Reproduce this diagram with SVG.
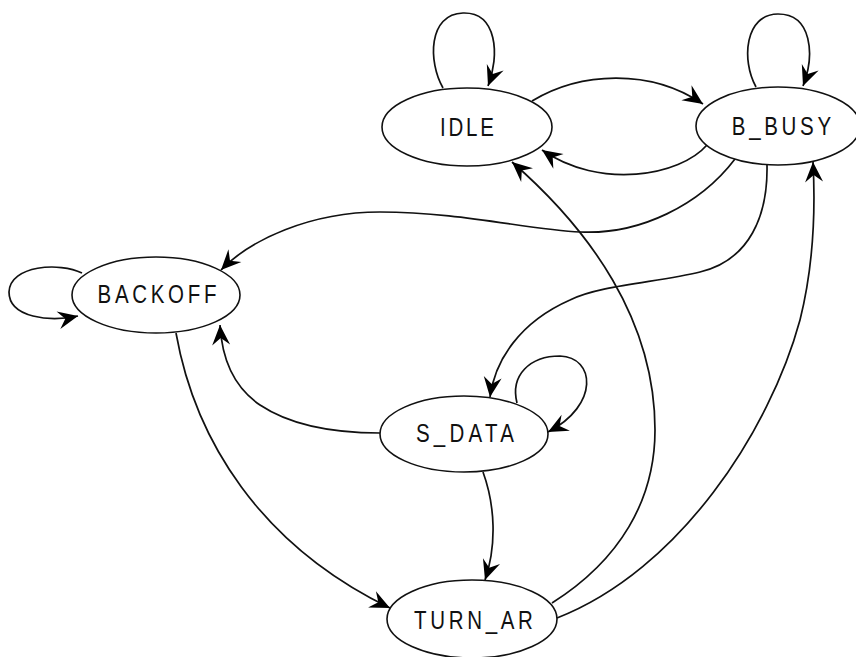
<svg xmlns="http://www.w3.org/2000/svg" width="856" height="657" viewBox="0 0 856 657">
<style>
.node ellipse{fill:#fff;stroke:#111;stroke-width:1.6}
.node text{font-family:"Liberation Sans",Arial,sans-serif;font-size:25px;fill:#111;text-anchor:middle}
.edges path{fill:none;stroke:#111;stroke-width:1.7;marker-end:url(#arr)}
</style>
<defs>
<marker id="arr" viewBox="-21 -10 23 20" refX="0" refY="0" markerWidth="23" markerHeight="20" markerUnits="userSpaceOnUse" orient="auto">
<path d="M0,0 L-20,-9 L-13,0 L-20,9 Z" fill="#000"/>
</marker>
</defs>
<rect width="856" height="657" fill="#fff"/>
<g class="edges">
<path d="M443,88 C428,62 428,14 463,13 C497,12 500,55 488,86"/>
<path d="M756,87 C741,60 745,14 778,14 C812,14 815,55 803,86"/>
<path d="M82,273 C60,262 10,265 9,292 C9,318 50,322 78,316"/>
<path d="M517,403 C510,375 530,356 560,356 C595,357 600,405 548,432"/>
<path d="M532,101 C580,72 650,68 703,104"/>
<path d="M707,145 C680,176 600,190 542,150"/>
<path d="M735,159 C700,205 640,235 580,232 C530,230 460,212 380,212 C310,212 250,240 221,270"/>
<path d="M767,165 C768,215 750,260 700,272 C660,282 600,285 570,300 C520,322 495,360 490,397"/>
<path d="M380,433 C330,433 290,425 260,405 C235,388 222,360 220,325"/>
<path d="M176,333 C195,440 260,545 390,608"/>
<path d="M483,472 C495,505 497,545 485,580"/>
<path d="M552,603 C620,560 655,500 655,430 C655,320 590,230 512,162"/>
<path d="M557,618 C680,570 770,430 800,320 C815,260 815,200 813,162"/>
</g>
<g id="IDLE" class="node"><ellipse cx="467" cy="127" rx="85" ry="39"/><text transform="scale(0.82,1)" x="569.5" y="136" textLength="66" lengthAdjust="spacing">IDLE</text></g>
<g id="B_BUSY" class="node"><ellipse cx="778" cy="126" rx="82" ry="39"/><text transform="scale(0.82,1)" x="953" y="135" textLength="121" lengthAdjust="spacing">B_BUSY</text></g>
<g id="BACKOFF" class="node"><ellipse cx="156" cy="295" rx="84" ry="38"/><text transform="scale(0.82,1)" x="191.5" y="303" textLength="145" lengthAdjust="spacing">BACKOFF</text></g>
<g id="S_DATA" class="node"><ellipse cx="464" cy="434" rx="84" ry="38"/><text transform="scale(0.82,1)" x="567" y="442" textLength="119.5" lengthAdjust="spacing">S_DATA</text></g>
<g id="TURN_AR" class="node"><ellipse cx="472" cy="619" rx="85" ry="39"/><text transform="scale(0.82,1)" x="577.4" y="629" textLength="145" lengthAdjust="spacing">TURN_AR</text></g>
</svg>
